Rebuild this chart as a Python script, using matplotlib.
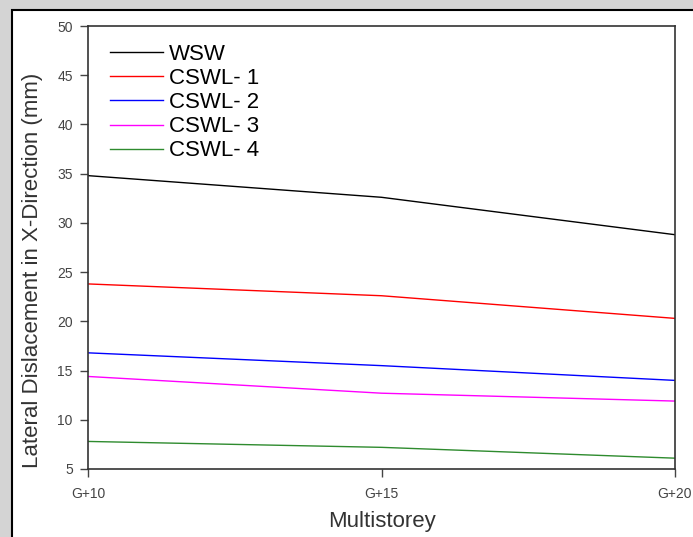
import numpy as np
import matplotlib.pyplot as plt
from matplotlib.patches import Rectangle

plt.rcParams['font.family'] = ['Liberation Sans', 'DejaVu Sans']

storeys = ["G+10", "G+15", "G+20"]
wsw = [34.8, 32.6, 28.8]
cswl1 = [23.8, 22.6, 20.3]
cswl2 = [16.8, 15.5, 14.0]
cswl3 = [14.4, 12.7, 11.9]
cswl4 = [7.8, 7.2, 6.1]

series = [("WSW", wsw, "black"),
          ("CSWL- 1", cswl1, "red"),
          ("CSWL- 2", cswl2, "blue"),
          ("CSWL- 3", cswl3, "magenta"),
          ("CSWL- 4", cswl4, "#2e8b2e")]

W, H = 693, 537
fig = plt.figure(figsize=(W/100, H/100), dpi=100, facecolor="#d4d4d4")
# white panel with black frame
fig.patches.append(Rectangle((12/W, -0.05), 1.1, 1 - 10/H + 0.05,
                             transform=fig.transFigure, facecolor="white",
                             edgecolor="black", linewidth=1.5, zorder=-1))

ax = fig.add_axes([88/W, 1 - 469/H, (675 - 88)/W, (469 - 26)/H])
x = np.arange(len(storeys))
for name, vals, col in series:
    ax.plot(x, vals, color=col, linewidth=1.0, label=name)

ax.set_xlim(0, 2)
ax.set_ylim(5, 50)
ax.set_xticks(x)
ax.set_xticklabels(storeys)
ax.set_yticks(np.arange(5, 51, 5))
ax.tick_params(labelsize=10, colors="#444444", length=6, width=1,
               direction="out")
ax.tick_params(axis="x", pad=7)
ax.tick_params(axis="y", pad=5)
for s in ax.spines.values():
    s.set_color("#333333")
    s.set_linewidth(1.2)

fig.text(382/W, 1 - 522/H, "Multistorey", fontsize=16, color="#333333",
         ha="center", va="center")
fig.text(33/W, 1 - 270/H, "Lateral Dislacement in X-Direction (mm)",
         fontsize=16, color="#333333", rotation=90, ha="center", va="center")

ax.legend(loc="upper left", frameon=False, fontsize=16, handlelength=2.4,
          handletextpad=0.25, labelspacing=0.14, borderpad=0,
          borderaxespad=0, bbox_to_anchor=(22/587, (469 - 44)/443))

fig.savefig("out.png", dpi=100, facecolor=fig.get_facecolor())
